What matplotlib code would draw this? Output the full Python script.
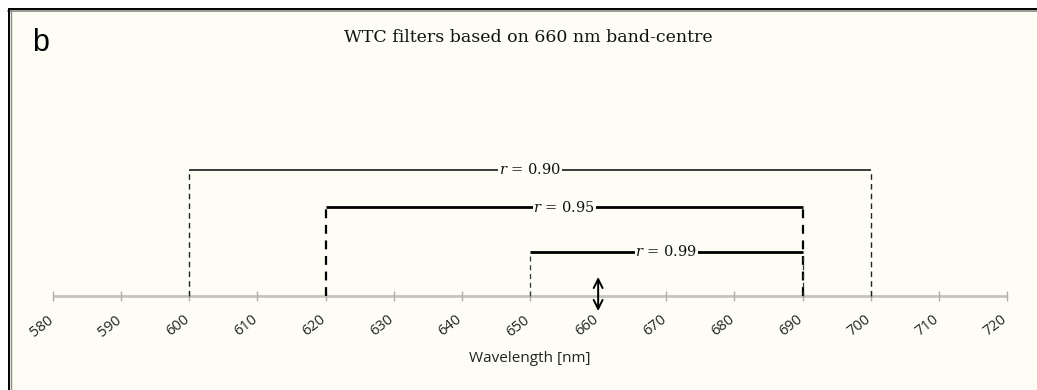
import matplotlib
matplotlib.use("Agg")
import matplotlib.pyplot as plt
from matplotlib.patches import Rectangle
from matplotlib.lines import Line2D

plt.rcParams["mathtext.fontset"] = "dejavuserif"

# ---- data ----
tick_values = [580, 590, 600, 610, 620, 630, 640, 650, 660, 670, 680, 690, 700, 710, 720]
tick_labels = ["580", "590", "600", "610", "620", "630", "640", "650", "660", "670",
               "680", "690", "700", "710", "720"]
band_centre = 660
r_labels = ["0.90", "0.95", "0.99"]
filter_low = [600, 620, 650]
filter_high = [700, 690, 690]
title = "WTC filters based on 660 nm band-centre"
xlabel = "Wavelength [nm]"
panel = "b"

# ---- styles ----
bg = "#FDFDF6"
levels = [126, 89, 44]
hcolors = ["#3a3a3a", "#000000", "#000000"]
hwidths = [1.4, 2.0, 2.0]
lcolors = ["#222222", "#000000", "#333333"]
lwidths = [1.0, 1.6, 0.9]

W, H = 1037, 390
fig = plt.figure(figsize=(W / 100, H / 100), dpi=100)
fig.patch.set_facecolor("white")

# background panel and border
fig.patches.append(Rectangle((8 / W, 0), 1 - 8 / W, 1 - 8 / H, transform=fig.transFigure,
                             facecolor=bg, edgecolor="none", zorder=-10))
fig.lines.append(Line2D([8.5 / W, 1], [1 - 8.5 / H, 1 - 8.5 / H], transform=fig.transFigure,
                        color="black", lw=1.4, zorder=-5))
fig.lines.append(Line2D([8 / W, 1], [1 - 10.5 / H, 1 - 10.5 / H], transform=fig.transFigure,
                        color="#8a8a80", lw=1.2, zorder=-5))
fig.lines.append(Line2D([8.5 / W, 8.5 / W], [0, 1 - 8.5 / H], transform=fig.transFigure,
                        color="black", lw=1.4, zorder=-5))
fig.lines.append(Line2D([10.5 / W, 10.5 / W], [0, 1 - 10.5 / H], transform=fig.transFigure,
                        color="#8a8a80", lw=1.0, zorder=-5))

ax = fig.add_axes([53 / W, 0, 954 / W, 1])
ax.set_zorder(5)
ax.set_xlim(580, 720)
ax.set_ylim(-94, 296)
ax.axis("off")
ax.patch.set_alpha(0)

# axis line and ticks
ax.plot([tick_values[0], tick_values[-1]], [0, 0], color="#c4c4bc", lw=2.0, zorder=1,
        solid_capstyle="butt", clip_on=False)
ax.vlines(tick_values, -5, 5, color="#b0b0a8", lw=1.0, zorder=1, clip_on=False)
for v, lab in zip(tick_values, tick_labels):
    ax.text(v - 1.7, -30, lab, rotation=38, ha="center", va="center",
            fontsize=10.5, family="Open Sans", color="#222222")

ax.text(650, -62, xlabel, ha="center", va="center", fontsize=11, family="Open Sans",
        color="#222222")

# filter brackets
for lo, hi, lev, lab, hc, hw, lc, lw in zip(filter_low, filter_high, levels, r_labels,
                                             hcolors, hwidths, lcolors, lwidths):
    ax.plot([lo, hi], [lev, lev], color=hc, lw=hw, zorder=2, solid_capstyle="butt")
    ax.vlines([lo, hi], 0, lev, color=lc, lw=lw, linestyles=(0, (4, 3)), zorder=2)
    ax.text((lo + hi) / 2, lev, r"$r$ = " + lab, ha="center", va="center", fontsize=10.5,
            family="DejaVu Serif", color="#111111", zorder=3,
            bbox=dict(facecolor=bg, edgecolor="none", pad=0.4))

# band centre arrow
ax.annotate("", xy=(band_centre, 19), xytext=(band_centre, -15),
            arrowprops=dict(arrowstyle="<->", color="black", lw=1.4,
                            shrinkA=0, shrinkB=0, mutation_scale=16))

# title and panel label
ax.text(649.7, 258, title, ha="center", va="center", fontsize=12.5,
        family="DejaVu Serif", color="#111111")
ax.text(578.2, 253, panel, ha="center", va="center", fontsize=22,
        family="Liberation Sans", color="black")

fig.savefig("out.png", dpi=100, facecolor="white")
